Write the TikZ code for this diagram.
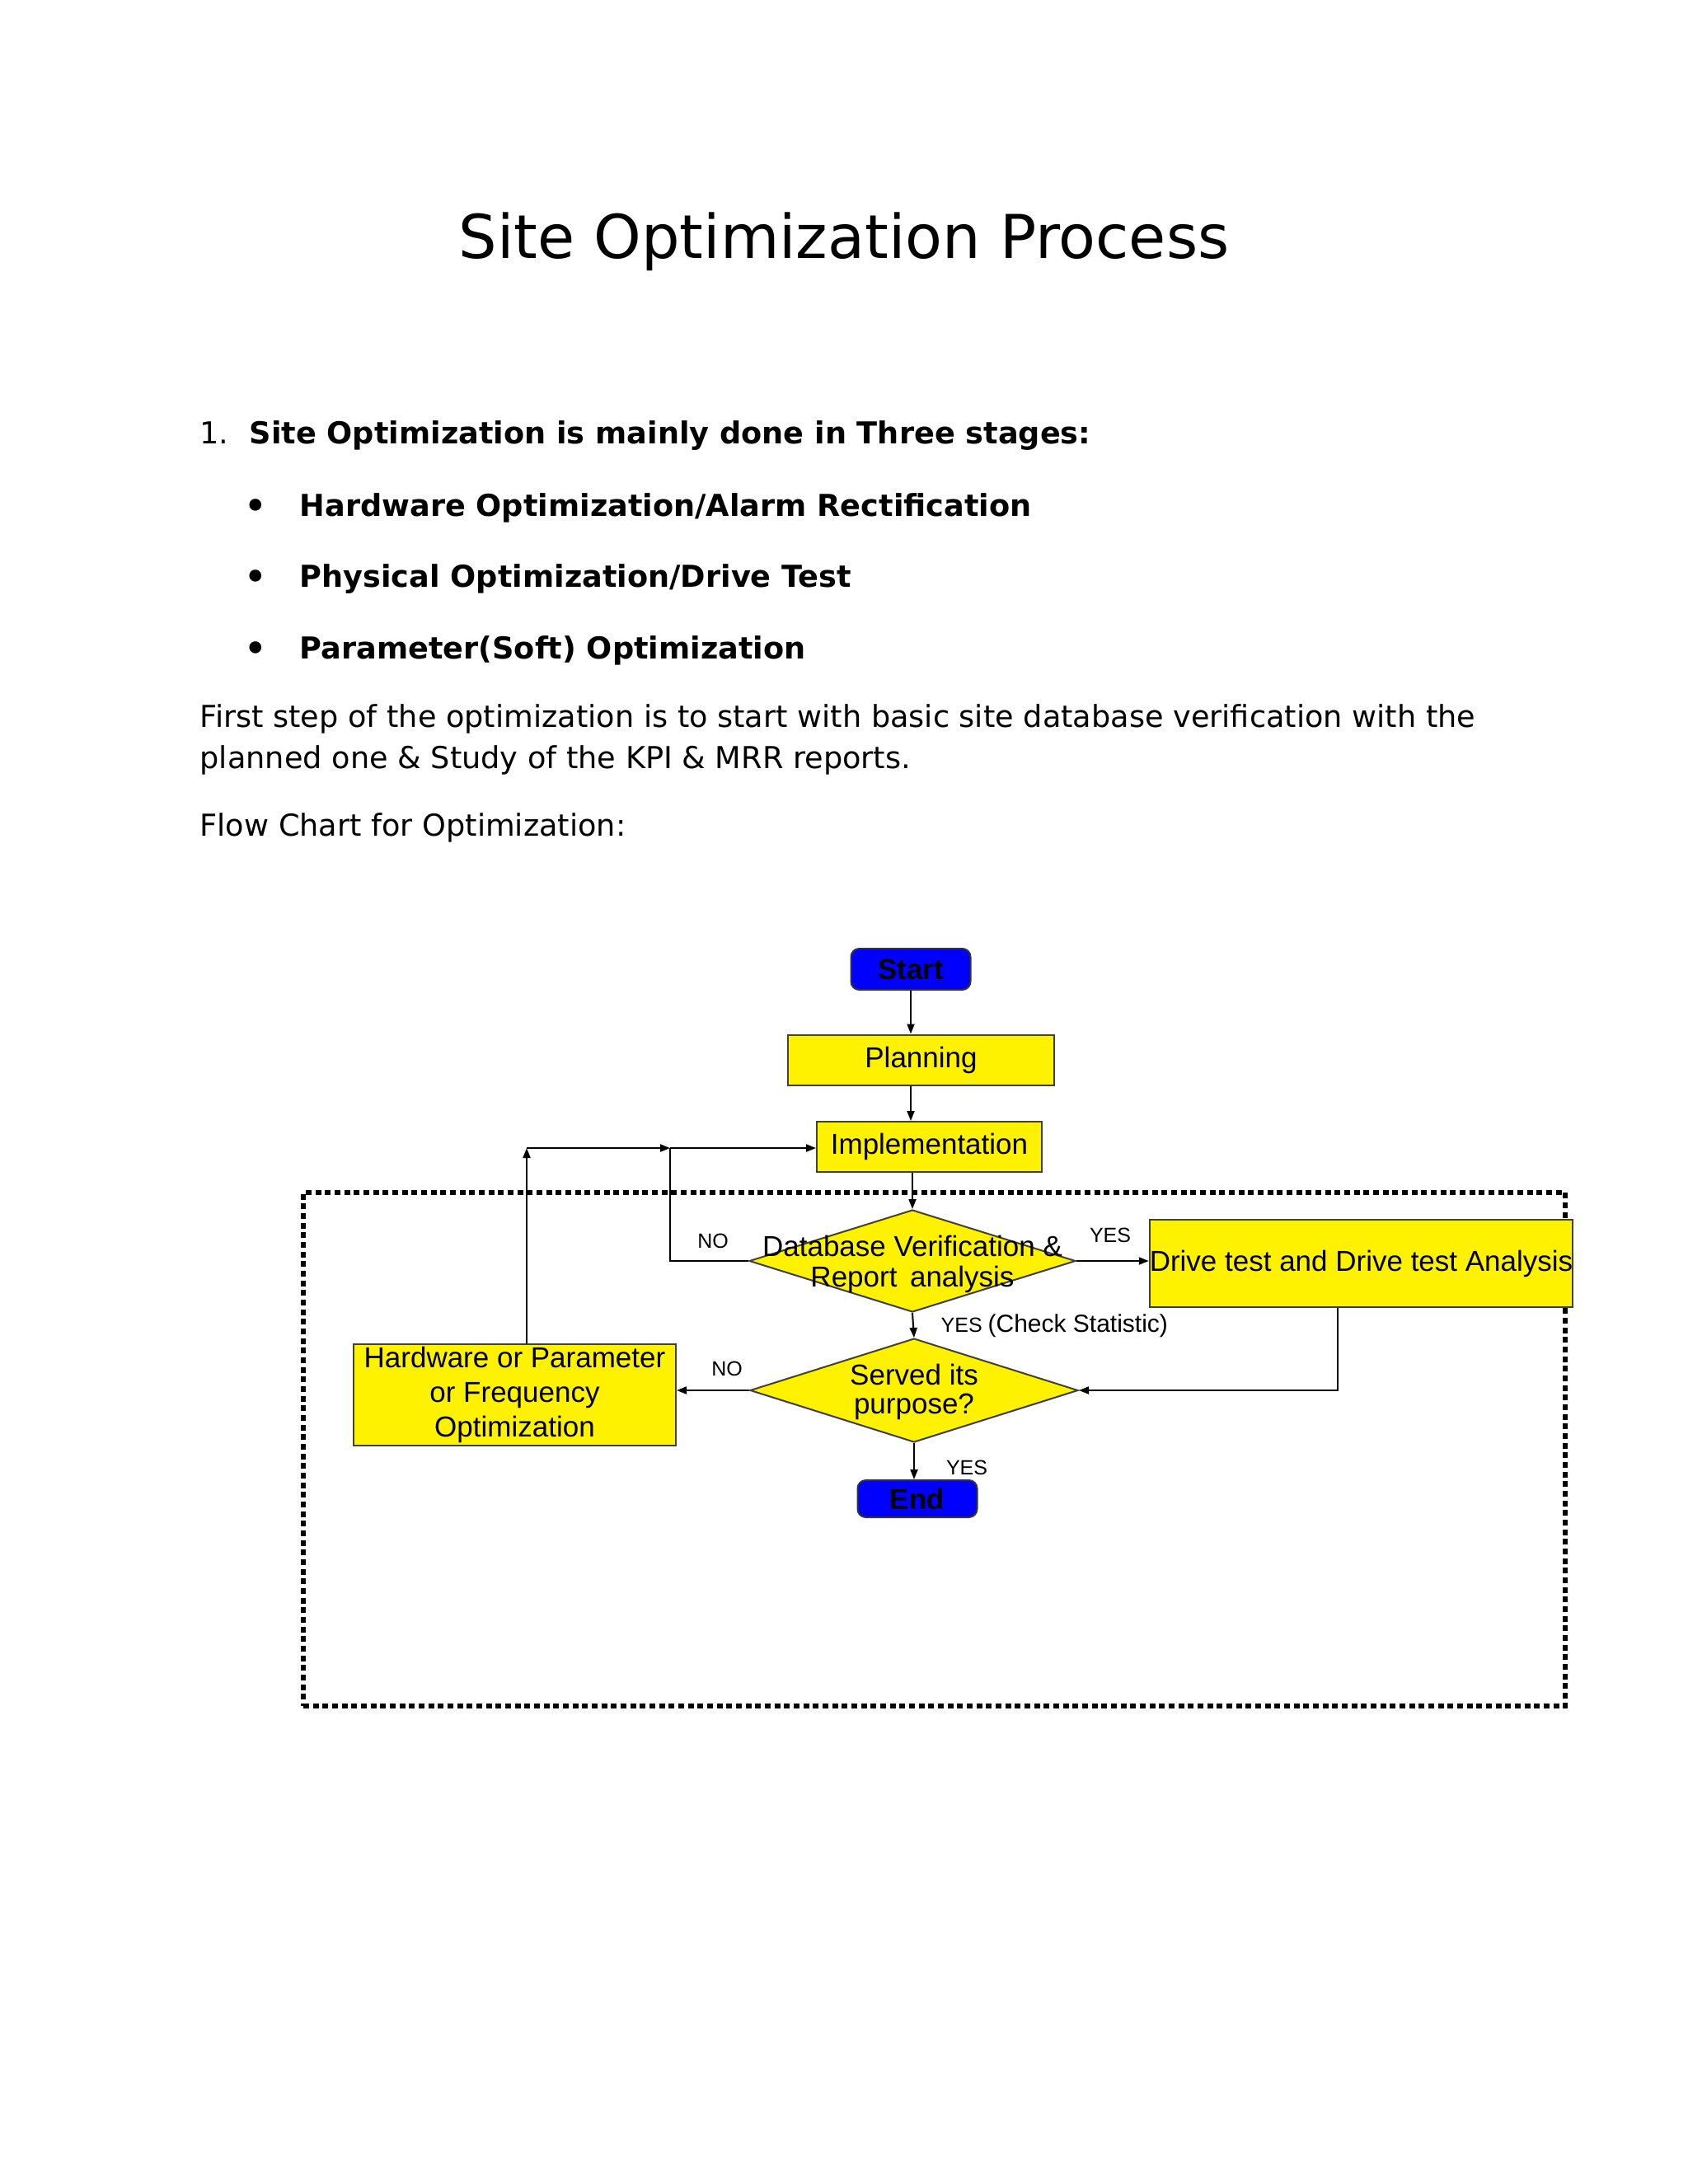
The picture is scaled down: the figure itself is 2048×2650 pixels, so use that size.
\documentclass[tikz,border=0pt]{standalone}
\usepackage{fontspec}
\setmainfont{DejaVu Sans}
\newfontfamily\fcfont{Liberation Sans}
\usetikzlibrary{shapes.geometric,arrows.meta,calc}
\begin{document}
\begin{tikzpicture}[x=0.3pt,y=-0.3pt,
  body/.style={anchor=base west,inner sep=0pt,font=\fontsize{11}{13}\selectfont},
  bodyb/.style={body,font=\fontsize{11}{13}\selectfont\bfseries},
  bul/.style={anchor=base,inner sep=0pt,font=\fontsize{15}{17}\selectfont},
  ybox/.style={draw=black!75,line width=0.6pt,fill=yellow,inner sep=0pt,align=center,
    font=\fcfont\fontsize{10.5}{12.5}\selectfont},
  bbox/.style={draw=black!80,line width=0.6pt,fill=blue,rounded corners=3pt,inner sep=0pt,
    font=\fcfont\bfseries\fontsize{10.5}{12.5}\selectfont},
  ydiam/.style={diamond,draw=black!75,line width=0.6pt,fill=yellow,inner sep=0pt},
  dtext/.style={inner sep=0pt,font=\fcfont\fontsize{10.5}{12.5}\selectfont},
  lbl/.style={inner sep=0pt,font=\fcfont\fontsize{7.5}{9}\selectfont},
  arr/.style={line width=0.6pt,-{Triangle[length=3.6pt,width=2.7pt]}},
  conn/.style={line width=0.6pt},
  frame/.style={draw,line width=1.8pt,dash pattern=on 2.1pt off 1.4pt,minimum width={1531*0.3pt},minimum height={623*0.3pt},inner sep=0pt}
]
\useasboundingbox[fill=white] (0,0) rectangle (2048,2650);

% Title and text
\node[anchor=base,inner sep=0pt,font=\fontsize{22}{26}\selectfont] (title) at (1024,313) {Site Optimization Process};
\node[body] (num) at (242,538) {1.};
\node[bodyb] (l1) at (302,538) {Site Optimization is mainly done in Three stages:};
\node[bul] (b1) at (310,631) {•};
\node[bodyb] (l2) at (363,626) {Hardware Optimization/Alarm Rectification};
\node[bul] (b2) at (310,717) {•};
\node[bodyb] (l3) at (363,712) {Physical Optimization/Drive Test};
\node[bul] (b3) at (310,804) {•};
\node[bodyb] (l4) at (363,799) {Parameter(Soft) Optimization};
\node[body] (p1) at (242,882) {First step of the optimization is to start with basic site database verification with the};
\node[body] (p2) at (242,932) {planned one \& Study of the KPI \& MRR reports.};
\node[body] (p3) at (242,1014) {Flow Chart for Optimization:};

% Dotted frame
\node[frame] (fr) at (1133.5,1758.5) {};

% Flowchart nodes
\node[bbox,minimum width={145*0.3pt},minimum height={50*0.3pt}] (start) at (1105,1176) {Start};
\node[ybox,minimum width={323*0.3pt},minimum height={61*0.3pt}] (plan) at (1117.5,1286) {\raisebox{-1pt}{Planning}};
\node[ybox,minimum width={273*0.3pt},minimum height={61*0.3pt}] (impl) at (1127.5,1391.5) {\raisebox{-1pt}{Implementation}};
\node[ydiam,minimum width={396*0.3pt},minimum height={124*0.3pt}] (db) at (1107,1530) {};
\node[dtext] (dbt1) at (1107,1512) {Database Verification \&};
\node[dtext] (dbt2) at (1107,1552) {Report\, analysis};
\node[ybox,minimum width={503*0.3pt},minimum height={106*0.3pt}] (drive) at (1651.5,1533) {Drive test and Drive test Analysis};
\node[ydiam,minimum width={398*0.3pt},minimum height={126*0.3pt}] (srv) at (1109,1687) {};
\node[dtext] (srvt1) at (1109,1668) {Served its};
\node[dtext] (srvt2) at (1109,1707) {purpose?};
\node[ybox,minimum width={391*0.3pt},minimum height={123*0.3pt}] (hw) at (624.5,1692.5) {Hardware or Parameter\\or Frequency\\Optimization};
\node[bbox,minimum width={145*0.3pt},minimum height={45*0.3pt}] (end) at (1113,1818.5) {End};

% Labels
\node[lbl] (no1) at (865,1506) {NO};
\node[lbl] (yes1) at (1347,1499) {YES};
\node[lbl,anchor=west] (yes2) at (1141,1609) {YES \fontsize{9}{11}\selectfont(Check Statistic)};
\node[lbl] (no2) at (882,1661) {NO};
\node[lbl] (yes3) at (1173,1781) {YES};

% Connectors
\coordinate (jn) at (813,1393);
\coordinate (hwup) at (639,1393);
\coordinate (dcorner) at (1623,1687);
\draw[arr] (start.south) -- (start.south |- plan.north);
\draw[arr] (plan.south -| start.south) -- (start.south |- impl.north);
\draw[arr] (db.north |- impl.south) -- (db.north);
\draw[arr] (db.east) -- (db.east -| drive.west);
\draw[arr] (db.south) -- (srv.north);
\draw[arr] (dcorner |- drive.south) -- (dcorner) -- (srv.east);
\draw[arr] (srv.west) -- (srv.west -| hw.east);
\draw[arr] (srv.south) -- (srv.south |- end.north);
\draw[conn] (db.west) -| (jn);
\draw[arr] (jn) -- (jn -| impl.west);
\draw[arr] (hwup |- hw.north) -- (hwup);
\draw[arr] (hwup) -- (jn);
\end{tikzpicture}
\end{document}
